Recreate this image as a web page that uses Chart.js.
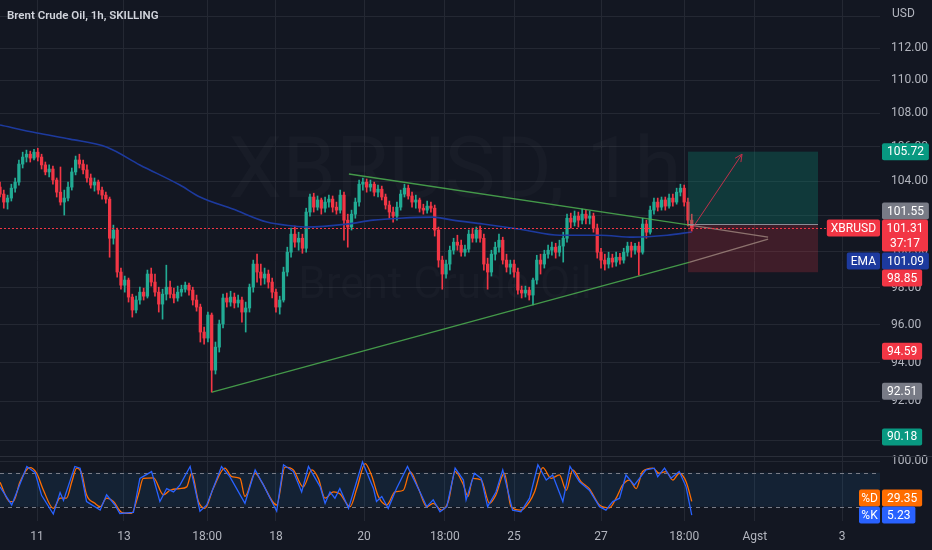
<!DOCTYPE html>
<html>
<head>
<meta charset="utf-8">
<script src="https://cdn.jsdelivr.net/npm/chart.js@4.4.1/dist/chart.umd.min.js"></script>
<style>
  html, body { margin: 0; padding: 0; background: #131722; }
  #wrap { position: relative; width: 932px; height: 550px; }
  canvas { display: block; }
</style>
</head>
<body>
<div id="wrap"><canvas id="chart" width="932" height="550"></canvas></div>
<script>
// 2h candles: [open, high, low, close]
var candles = [
  [103.65,103.94,103.08,103.25],[103.25,103.48,102.44,102.79],[102.79,103.19,102.39,103.02],[103.02,103.82,102.85,103.59],
  [103.59,104.18,103.36,103.94],[103.94,105.23,103.77,104.99],[104.99,105.69,104.76,105.40],[105.40,105.81,105.11,105.57],
  [105.57,105.75,105.11,105.34],[105.34,105.86,105.23,105.69],[105.69,105.92,105.17,105.40],[105.40,105.57,104.70,104.94],
  [104.94,105.11,104.36,104.53],[104.53,104.94,104.24,104.70],[104.70,104.88,103.82,104.06],[104.06,104.18,103.08,103.36],
  [103.36,104.82,102.62,102.79],[102.79,103.48,102.05,103.02],[103.02,103.94,102.85,103.65],[103.65,104.76,103.48,104.53],
  [104.53,105.46,104.36,105.23],[105.23,105.57,104.76,104.99],[104.99,105.23,104.41,104.65],[104.65,104.94,103.94,104.18],
  [104.18,104.41,103.59,103.77],[103.77,104.18,103.42,103.94],[103.94,104.06,103.25,103.48],[103.48,103.65,102.96,103.19],
  [103.19,103.36,102.73,102.96],[102.96,103.08,99.68,100.74],[100.74,101.48,100.41,101.20],[101.20,101.31,98.58,98.86],
  [98.86,99.08,97.92,98.14],[98.14,98.64,97.76,98.42],[98.42,98.53,97.22,97.49],[97.49,97.65,96.41,96.79],
  [96.79,97.54,96.63,97.33],[97.33,98.03,97.11,97.76],[97.76,97.98,97.33,97.54],[97.54,98.97,97.44,98.75],
  [98.75,99.08,98.09,98.31],[98.31,98.75,97.54,97.76],[97.76,98.03,96.68,97.11],[97.11,97.92,96.30,97.65],
  [97.65,99.24,97.33,98.03],[98.03,98.36,97.44,97.65],[97.65,97.98,97.17,97.44],[97.44,98.09,97.27,97.76],
  [97.76,98.14,97.54,97.92],[97.92,98.31,97.76,98.14],[98.14,98.25,97.60,97.87],[97.87,98.03,97.06,97.33],
  [97.33,97.60,96.73,96.95],[96.95,97.11,95.08,95.61],[95.61,95.88,94.97,95.29],[95.29,96.68,95.08,96.52],
  [96.52,96.63,92.46,93.60],[93.60,95.08,93.40,94.81],[94.81,96.25,94.55,96.04],[96.04,97.65,95.83,97.44],
  [97.44,97.71,96.95,97.22],[97.22,97.81,97.00,97.49],[97.49,97.71,96.90,97.17],[97.17,97.60,96.95,97.33],
  [97.33,97.49,96.14,96.68],[96.68,97.22,95.61,96.90],[96.90,98.20,96.68,98.03],[98.03,99.52,97.76,99.30],
  [99.30,99.85,98.31,98.86],[98.86,99.30,98.14,98.53],[98.53,99.08,98.20,98.75],[98.75,98.97,97.98,98.31],
  [98.31,98.53,97.44,97.76],[97.76,97.92,96.68,96.95],[96.95,97.54,96.57,97.33],[97.33,99.13,97.22,98.86],
  [98.86,100.24,98.64,99.96],[99.96,101.31,99.68,100.97],[100.97,101.43,100.24,100.52],[100.52,101.08,100.07,100.74],
  [100.74,100.97,99.90,100.18],[100.18,102.44,99.96,102.22],[102.22,103.25,101.99,103.08],[103.08,103.30,102.22,102.50],
  [102.50,103.14,102.33,102.91],[102.91,103.02,102.10,102.44],[102.44,103.08,102.22,102.79],[102.79,103.19,102.50,102.96],
  [102.96,103.14,102.22,102.50],[102.50,102.79,102.10,102.33],[102.33,103.48,102.16,103.19],[103.19,103.36,100.63,101.76],
  [101.76,102.10,100.24,101.37],[101.37,102.33,101.20,102.10],[102.10,103.02,101.87,102.79],[102.79,104.06,102.56,103.82],
  [103.82,104.18,103.48,103.94],[103.94,104.12,103.36,103.65],[103.65,104.06,103.42,103.82],[103.82,103.94,103.14,103.36],
  [103.36,103.77,103.08,103.53],[103.53,103.71,102.91,103.08],[103.08,103.25,102.39,102.62],[102.62,102.85,101.87,102.22],
  [102.22,102.50,101.65,101.99],[101.99,102.79,101.76,102.50],[102.50,103.48,102.33,103.25],[103.25,103.82,103.08,103.59],
  [103.59,103.77,102.96,103.14],[103.14,103.36,102.50,102.79],[102.79,103.19,102.44,102.91],[102.91,103.02,102.22,102.44],
  [102.44,102.67,102.10,102.33],[102.33,102.85,102.16,102.56],[102.56,102.79,102.22,102.44],[102.44,102.62,100.86,101.20],
  [101.20,101.37,99.13,99.52],[99.52,99.74,97.92,98.75],[98.75,99.52,98.53,99.30],[99.30,100.30,98.97,100.07],
  [100.07,100.74,99.85,100.52],[100.52,100.91,100.07,100.35],[100.35,100.63,99.74,99.96],[99.96,100.35,99.74,100.13],
  [100.13,101.20,99.96,100.97],[100.97,101.31,100.52,100.74],[100.74,101.37,100.52,101.20],[101.20,101.43,100.52,100.74],
  [100.74,100.97,98.97,99.30],[99.30,99.63,97.92,98.86],[98.86,100.07,98.64,99.85],[99.85,100.52,99.52,100.24],
  [100.24,100.97,99.96,100.63],[100.63,100.80,99.30,99.52],[99.52,99.85,98.86,99.13],[99.13,99.52,98.75,99.30],
  [99.30,99.52,98.58,98.86],[98.86,99.08,97.65,97.87],[97.87,98.09,97.44,97.71],[97.71,98.09,97.49,97.87],
  [97.87,98.03,97.33,97.60],[97.60,98.53,97.06,98.42],[98.42,99.79,98.20,99.52],[99.52,99.85,98.75,99.30],
  [99.30,100.07,99.08,99.85],[99.85,100.35,99.63,100.07],[100.07,100.52,99.79,100.24],[100.24,100.46,99.63,99.96],
  [99.96,100.63,99.74,100.30],[100.30,101.08,99.41,100.74],[100.74,102.10,100.52,101.87],[101.87,102.16,101.31,101.65],
  [101.65,102.28,101.43,101.99],[101.99,102.22,101.37,101.76],[101.76,102.39,101.54,102.10],[102.10,102.33,101.54,101.87],
  [101.87,102.28,101.54,101.99],[101.99,102.16,101.08,101.31],[101.31,101.54,99.63,99.96],[99.96,100.18,99.08,99.52],
  [99.52,99.85,98.97,99.30],[99.30,99.96,99.08,99.63],[99.63,99.85,99.13,99.41],[99.41,99.96,99.19,99.68],
  [99.68,99.90,99.30,99.52],[99.52,100.18,99.35,99.96],[99.96,100.52,99.74,100.30],[100.30,100.52,99.68,100.07],
  [100.07,100.46,99.85,100.30],[100.30,100.52,98.69,99.96],[99.96,101.87,99.85,101.54],[101.54,101.76,100.74,101.08],
  [101.08,102.56,100.97,102.33],[102.33,103.02,102.10,102.79],[102.79,103.02,102.28,102.50],[102.50,103.08,102.33,102.91],
  [102.91,103.08,102.33,102.56],[102.56,103.25,102.44,103.02],[103.02,103.25,102.56,102.79],[102.79,103.59,102.67,103.36],
  [103.36,103.82,103.14,103.59],[103.59,103.77,102.56,102.79],[102.79,103.02,101.43,101.76],[101.76,102.10,101.14,101.31]
];

// EMA line, [candle index, price]
var emaPoints = [
  [0,107.30],[9.8,106.82],[18.5,106.46],[28.3,105.98],[37,104.94],[47.6,103.77],[52.9,103.08],
  [61.6,102.39],[70.6,101.65],[77.5,101.43],[81.2,101.37],[91.8,101.54],[98.7,101.76],[105.8,101.87],
  [114.6,101.93],[119.8,101.76],[127.8,101.54],[137.6,101.25],[148.1,100.91],[158.7,100.91],
  [167.5,100.80],[176.5,100.91],[183,101.09]
];

// triangle drawn on the chart
var upperTrend = [[92.3,104.41],[182.5,101.48]];
var upperTrendExt = [[182.5,101.48],[203.2,100.80]];
var lowerTrend = [[56.1,92.46],[182.5,99.41]];
var lowerTrendExt = [[182.5,99.41],[203.2,100.69]];

// Stoch RSI
var stochK = [
  [0,55],[3.1,23],[7.1,91],[9.3,80],[11,40],[14.1,7],[15.9,45],[16.8,31],[19.8,91],[21.2,88],[22.9,29],
  [26.5,14],[28.2,41],[30.4,23],[31.7,8],[35.3,10],[37,70],[40.1,82],[42.3,29],[44.1,52],[45.9,46],
  [47.6,58],[50.3,91],[52.9,12],[54.7,23],[58.6,91],[60.8,73],[64.8,26],[67.5,85],[69.7,58],[73.2,12],
  [75,94],[77.6,82],[79.8,46],[81.6,91],[84.7,55],[86,26],[87.3,46],[88.6,35],[89.9,52],[92.2,17],
  [95.9,99],[98.8,52],[99.6,29],[101,38],[102.7,17],[104.9,52],[107.8,91],[111.1,46],[112.9,20],
  [114.6,32],[116.4,11],[118.2,20],[120.4,88],[122.6,67],[123.3,32],[125.5,79],[127.3,70],[129,20],
  [131.2,46],[133,85],[135.6,14],[137.8,11],[140.1,35],[142.3,94],[144.5,67],[146.2,76],[148.9,29],
  [150.8,91],[153.3,64],[155.9,49],[158.6,20],[160.3,14],[162.1,29],[163.9,35],[165.6,76],[167.8,58],
  [170.9,85],[173.1,88],[174,73],[175.8,88],[177.5,70],[179.7,82],[181.5,55],[183,5.23]
];
var stochD = [
  [0,63],[2.6,29],[3.5,29],[5.3,64],[7.9,89],[9.7,79],[11.5,49],[14.1,17],[15.9,35],[17.6,35],[19,64],
  [20.3,88],[21.6,79],[22.9,41],[25.1,26],[26.5,20],[28.2,35],[30,29],[32.2,10],[34.8,8],[36.6,41],
  [37.9,70],[40.6,71],[43.2,41],[45,49],[47.6,52],[49.4,55],[50.7,79],[52.5,29],[54.2,17],[56.4,52],
  [59.5,88],[61.3,73],[63.5,70],[64.8,38],[67.5,79],[69.2,64],[73.2,23],[75.4,90],[77.6,85],[80.2,55],
  [82.5,85],[84.2,70],[86,35],[88.2,46],[89.9,43],[92.6,20],[94.4,52],[96.6,96],[98.3,75],[100.1,38],
  [102.3,23],[104.5,46],[106.7,49],[108.5,82],[110.7,52],[112.9,20],[114.6,26],[116.8,14],[118.6,29],
  [120.4,82],[122.5,60],[123.8,38],[125.1,70],[127.3,67],[129.5,26],[131.2,41],[133.4,79],[135.2,20],
  [137.8,14],[140.1,29],[141.4,46],[143.6,89],[145.8,70],[148,76],[149.8,49],[151.5,85],[153.7,64],
  [155.9,52],[158.6,23],[161.2,18],[163,35],[164.7,58],[166.5,67],[168.3,52],[170,82],[172.7,88],
  [174.4,79],[176.2,82],[178,67],[179.7,79],[181.5,64],[183,29.35]
];

var priceTicks = [90,92,94,96,98,100,102,104,106,108,110,112,114];
var timeTickIdx = [9.8,32.8,54.8,73.0,96.3,117.7,136.0,159.0,181.0,199.7,222.8];
var timeLabels = ['11','13','18:00','18','20','18:00','25','27','18:00','Agst','3'];

var lastPrice = 101.31, emaLast = 101.09, countdown = '37:17';
var entryPrice = 101.55, targetPrice = 105.72, stopPrice = 98.85;
var otherLevels = [94.59, 92.51, 90.18];
var posStart = 182, posEnd = 216.4;
var arrowFrom = [183, 101.25], arrowTo = [196.3, 105.57];
var kLast = 5.23, dLast = 29.35;

var UP = '#22ab94', DOWN = '#f23645', TEAL = '#089981', GREY = '#787b86';
var EMA_C = '#1d3a9e', ORANGE = '#ff6d00', BLUE = '#2962ff';
var GRID = '#242833', TXT = '#b2b5be';
var FONT = 'Roboto, "Open Sans", sans-serif';

var candleColor = candles.map(function(c){ return c[3] >= c[0] ? UP : DOWN; });
var toXY = function(a){ return a.map(function(p){ return {x: p[0], y: p[1]}; }); };

var roundBox = function(g, x, y, w, h, r){
  g.beginPath();
  g.moveTo(x + r, y);
  g.lineTo(x + w - r, y); g.quadraticCurveTo(x + w, y, x + w, y + r);
  g.lineTo(x + w, y + h - r); g.quadraticCurveTo(x + w, y + h, x + w - r, y + h);
  g.lineTo(x + r, y + h); g.quadraticCurveTo(x, y + h, x, y + h - r);
  g.lineTo(x, y + r); g.quadraticCurveTo(x, y, x + r, y);
  g.closePath();
  g.fill();
};

var tag = function(g, x, top, text, bg, w){
  g.font = '12px ' + FONT;
  var tw = w || g.measureText(text).width + 10;
  g.fillStyle = bg;
  roundBox(g, x, top, tw, 17, 2);
  g.fillStyle = '#ffffff';
  g.textAlign = 'center';
  g.textBaseline = 'middle';
  g.fillText(text, x + tw / 2, top + 9);
  return tw;
};

// no label padding around the panes, the picture has none
var noPad = function(s){
  s.paddingTop = 0; s.paddingBottom = 0; s.paddingLeft = 0; s.paddingRight = 0;
};

var backdrop = {
  id: 'backdrop',
  beforeDraw: function(c){
    var g = c.ctx;
    g.save();
    g.fillStyle = '#131722';
    g.fillRect(0, 0, c.width, c.height);
    g.restore();
  },
  beforeDatasetsDraw: function(c){
    var g = c.ctx, x = c.scales.x, y = c.scales.y, y2 = c.scales.y2;
    g.save();
    // watermark
    g.fillStyle = 'rgba(255,255,255,0.025)';
    g.textAlign = 'center';
    g.textBaseline = 'middle';
    g.font = '86px ' + FONT;
    g.fillText('XBRUSD, 1h', 455, 175);
    g.font = '44px ' + FONT;
    g.fillText('Brent Crude Oil', 445, 287);
    // stoch band
    var t80 = y2.getPixelForValue(80), t20 = y2.getPixelForValue(20);
    g.fillStyle = 'rgba(33,150,243,0.09)';
    g.fillRect(x.left, t80, x.right - x.left, t20 - t80);
    g.strokeStyle = GREY;
    g.lineWidth = 1;
    g.setLineDash([4, 4]);
    [t80, t20].forEach(function(v){
      g.beginPath(); g.moveTo(x.left, Math.round(v) + 0.5); g.lineTo(x.right, Math.round(v) + 0.5); g.stroke();
    });
    g.setLineDash([]);
    // pane separator
    g.strokeStyle = '#2a2e39';
    g.beginPath(); g.moveTo(0, y.bottom + 0.5); g.lineTo(c.width, y.bottom + 0.5); g.stroke();
    g.restore();
  },
  afterDatasetsDraw: function(c){
    var g = c.ctx, x = c.scales.x, y = c.scales.y;
    g.save();
    // long position tool
    var x0 = x.getPixelForValue(posStart), x1 = x.getPixelForValue(posEnd);
    var yT = y.getPixelForValue(targetPrice), yE = y.getPixelForValue(entryPrice), yS = y.getPixelForValue(stopPrice);
    g.fillStyle = 'rgba(8,153,129,0.26)';
    g.fillRect(x0, yT, x1 - x0, yE - yT);
    g.fillStyle = 'rgba(242,54,69,0.2)';
    g.fillRect(x0, yE, x1 - x0, yS - yE);
    g.strokeStyle = '#8a8d96';
    g.lineWidth = 1;
    g.beginPath(); g.moveTo(x0, Math.round(yE) + 0.5); g.lineTo(x1, Math.round(yE) + 0.5); g.stroke();
    // arrow
    var ax = x.getPixelForValue(arrowFrom[0]), ay = y.getPixelForValue(arrowFrom[1]);
    var bx = x.getPixelForValue(arrowTo[0]), by = y.getPixelForValue(arrowTo[1]);
    g.strokeStyle = '#c0304a';
    g.beginPath(); g.moveTo(ax, ay); g.lineTo(bx, by); g.stroke();
    var ang = Math.atan2(by - ay, bx - ax);
    g.beginPath();
    g.moveTo(bx - 8 * Math.cos(ang - 0.45), by - 8 * Math.sin(ang - 0.45));
    g.lineTo(bx, by);
    g.lineTo(bx - 8 * Math.cos(ang + 0.45), by - 8 * Math.sin(ang + 0.45));
    g.stroke();
    // last price line
    var yL = Math.round(y.getPixelForValue(lastPrice)) + 0.5;
    g.strokeStyle = DOWN;
    g.setLineDash([2, 2]);
    g.beginPath(); g.moveTo(x.left, yL); g.lineTo(x.right, yL); g.stroke();
    g.restore();
  },
  afterDraw: function(c){
    var g = c.ctx, y = c.scales.y, y2 = c.scales.y2;
    var ax = y.left + 2;
    g.save();
    // title and currency
    g.font = '600 11.5px ' + FONT;
    g.fillStyle = '#d1d4dc';
    g.textAlign = 'left';
    g.textBaseline = 'middle';
    g.fillText('Brent Crude Oil, 1h, SKILLING', 7, 16);
    g.font = '12px ' + FONT;
    g.fillStyle = TXT;
    g.fillText('USD', 892, 14);

    // last price block (fixed), others pushed away from it
    var yL = y.getPixelForValue(lastPrice);
    var curTop = yL - 8.5, curBot = curTop + 32;
    var tags = [
      {p: targetPrice, c: TEAL}, {p: entryPrice, c: GREY}, {p: emaLast, c: EMA_C, name: 'EMA'},
      {p: stopPrice, c: DOWN}, {p: otherLevels[0], c: DOWN}, {p: otherLevels[1], c: GREY}, {p: otherLevels[2], c: TEAL}
    ];
    var above = tags.filter(function(t){ return t.p > lastPrice; }).sort(function(a, b){ return a.p - b.p; });
    var below = tags.filter(function(t){ return t.p < lastPrice; }).sort(function(a, b){ return b.p - a.p; });
    var lim = curTop;
    above.forEach(function(t){
      var top = y.getPixelForValue(t.p) - 8.5;
      if (top + 17 > lim) top = lim - 17;
      t.top = top; lim = top;
    });
    lim = curBot + 1;
    below.forEach(function(t){
      var top = y.getPixelForValue(t.p) - 8.5;
      if (top < lim) top = lim;
      t.top = top; lim = top + 17;
    });
    tags.forEach(function(t){
      tag(g, ax, t.top, t.p.toFixed(2), t.c);
      if (t.name) {
        g.font = '12px ' + FONT;
        var w = g.measureText(t.name).width + 8;
        tag(g, ax - 2 - w, t.top, t.name, t.c, w);
      }
    });
    // last price with countdown
    g.fillStyle = DOWN;
    roundBox(g, ax, curTop, 46, 32, 2);
    g.fillStyle = '#ffffff';
    g.textAlign = 'center';
    g.font = '12px ' + FONT;
    g.fillText(lastPrice.toFixed(2), ax + 23, curTop + 9);
    g.fillText(countdown, ax + 23, curTop + 24);
    g.font = '12px ' + FONT;
    var sw = g.measureText('XBRUSD').width + 8;
    tag(g, ax - 2 - sw, curTop, 'XBRUSD', DOWN, sw);

    // stoch tags
    var kTop = y2.getPixelForValue(kLast) - 8.5;
    var dTop = Math.min(y2.getPixelForValue(dLast) - 8.5, kTop - 17);
    tag(g, ax, dTop, dLast.toFixed(2), ORANGE);
    tag(g, ax, kTop, kLast.toFixed(2), BLUE);
    tag(g, ax - 23, dTop, '%D', ORANGE, 21);
    tag(g, ax - 23, kTop, '%K', BLUE, 21);
    g.restore();
  }
};

var lineDs = function(data, color, width, axis, extra){
  var d = {
    type: 'line', data: toXY(data), borderColor: color, borderWidth: width,
    pointRadius: 0, yAxisID: axis, order: 0, tension: 0
  };
  for (var k in extra) d[k] = extra[k];
  return d;
};

new Chart(document.getElementById('chart'), {
  type: 'bar',
  data: {
    datasets: [
      lineDs(emaPoints, EMA_C, 1.6, 'y', {cubicInterpolationMode: 'monotone'}),
      lineDs(upperTrend, 'rgba(76,175,80,0.85)', 1.3, 'y'),
      lineDs(upperTrendExt, 'rgba(150,165,150,0.75)', 1.3, 'y'),
      lineDs(lowerTrend, 'rgba(76,175,80,0.85)', 1.3, 'y'),
      lineDs(lowerTrendExt, 'rgba(150,165,150,0.75)', 1.3, 'y'),
      lineDs(stochK, BLUE, 1.3, 'y2'),
      lineDs(stochD, ORANGE, 1.3, 'y2', {cubicInterpolationMode: 'monotone'}),
      {
        type: 'bar', yAxisID: 'y', order: 2, grouped: false,
        data: candles.map(function(c, i){ return {x: i, y: [c[2], c[1]]}; }),
        backgroundColor: candleColor, barThickness: 1
      },
      {
        type: 'bar', yAxisID: 'y', order: 1, grouped: false,
        data: candles.map(function(c, i){ return {x: i, y: [c[0], c[3]]}; }),
        backgroundColor: candleColor, barThickness: 2.6
      }
    ]
  },
  options: {
    responsive: false,
    animation: false,
    layout: {padding: 0},
    plugins: {legend: {display: false}, tooltip: {enabled: false}},
    scales: {
      x: {
        type: 'linear', min: 0, max: 232.8, offset: false,
        grid: {color: GRID, drawTicks: false, offset: false},
        border: {display: false},
        afterBuildTicks: function(s){ s.ticks = timeTickIdx.map(function(v){ return {value: v}; }); },
        afterFit: function(s){ s.height = 29; noPad(s); },
        ticks: {
          color: TXT, font: {family: FONT, size: 12}, padding: 9, maxRotation: 0, autoSkip: false,
          callback: function(v, i){ return timeLabels[i]; }
        }
      },
      y: {
        type: 'logarithmic', position: 'right', min: 89.23, max: 115.04,
        stack: 'panes', stackWeight: 456,
        grid: {color: GRID, drawTicks: false},
        border: {display: false},
        afterBuildTicks: function(s){ s.ticks = priceTicks.map(function(v){ return {value: v}; }); },
        afterFit: function(s){ s.width = 52; noPad(s); },
        ticks: {
          color: TXT, font: {family: FONT, size: 12}, padding: 11,
          callback: function(v){ return v === 114 ? '' : v.toFixed(2); }
        }
      },
      y2: {
        type: 'linear', position: 'right', min: -5.3, max: 109.5,
        stack: 'panes', stackWeight: 65,
        grid: {color: GRID, drawTicks: false},
        border: {display: false},
        afterBuildTicks: function(s){ s.ticks = [{value: 100}]; },
        afterFit: function(s){ s.width = 52; noPad(s); },
        ticks: {
          color: TXT, font: {family: FONT, size: 12}, padding: 11,
          callback: function(v){ return v.toFixed(2); }
        }
      }
    }
  },
  plugins: [backdrop]
});
</script>
</body>
</html>
